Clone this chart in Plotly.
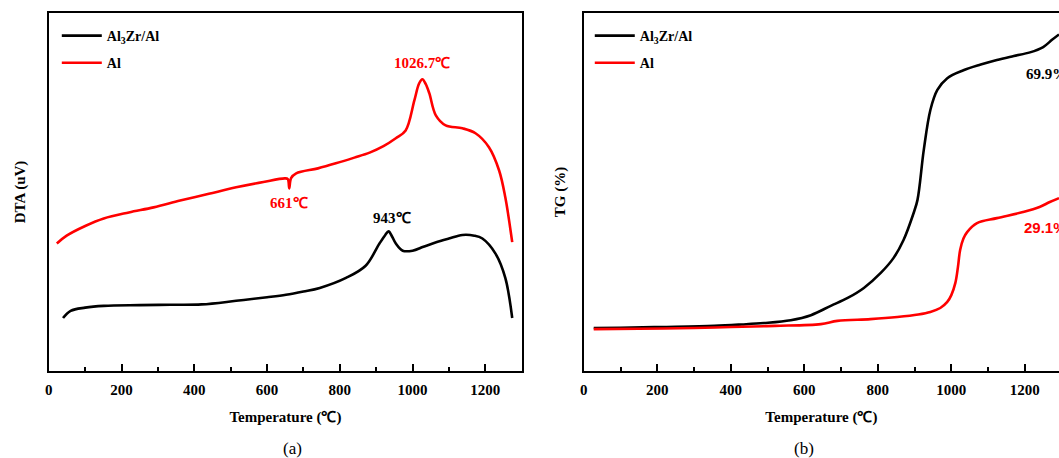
import plotly.graph_objects as go

# ---------------- data ----------------
# (a) DTA curves (arbitrary units)
dta_al_T = [22, 49, 100, 151, 220, 288, 361, 440, 515, 590, 649, 657, 661, 666, 680, 740, 789, 840, 882, 920, 954, 981, 1005, 1018, 1027, 1036, 1046, 1064, 1091, 1137, 1173, 1210, 1238, 1255, 1274]
dta_al_v = [35.6, 37.8, 40.5, 42.6, 44.3, 45.7, 47.6, 49.5, 51.3, 52.8, 53.8, 53.6, 51.0, 53.9, 55.2, 56.6, 58.0, 59.6, 61.0, 62.8, 65.0, 67.2, 75.6, 80.3, 81.5, 80.2, 77.6, 71.4, 68.6, 67.8, 66.4, 62.5, 56.0, 48.5, 36.0]

dta_zr_T = [39, 60, 100, 151, 250, 334, 420, 515, 600, 652, 700, 745, 817, 871, 909, 925, 934, 944, 954, 973, 1000, 1030, 1063, 1100, 1137, 1170, 1192, 1228, 1255, 1274]
dta_zr_v = [14.8, 16.8, 17.7, 18.2, 18.4, 18.5, 18.6, 19.6, 20.6, 21.3, 22.2, 23.2, 26.0, 29.4, 35.6, 38.0, 39.0, 37.5, 35.6, 33.6, 33.6, 34.7, 35.9, 37.0, 38.0, 37.8, 37.0, 32.8, 26.0, 14.8]

# (b) TG curves (arbitrary units)
tg_zr_T = [27, 100, 220, 355, 430, 490, 563, 618, 672, 718, 762, 808, 843, 870, 897, 908, 925, 943, 962, 989, 1033, 1080, 1124, 1170, 1214, 1250, 1274, 1293]
tg_zr_v = [12.0, 12.1, 12.3, 12.6, 13.0, 13.4, 14.2, 15.6, 18.2, 20.4, 23.2, 27.4, 31.6, 36.6, 44.0, 47.8, 61.7, 72.9, 78.5, 81.8, 84.0, 85.6, 86.9, 88.0, 89.0, 90.5, 92.5, 94.0]

tg_al_T = [27, 150, 300, 401, 520, 645, 690, 780, 853, 910, 943, 970, 989, 1000, 1011, 1018, 1024, 1033, 1043, 1070, 1124, 1195, 1240, 1268, 1293]
tg_al_v = [11.7, 11.8, 12.0, 12.3, 12.6, 13.1, 14.0, 14.5, 15.1, 15.8, 16.5, 17.6, 19.3, 21.2, 24.6, 29.0, 33.8, 37.0, 38.8, 41.3, 42.7, 44.4, 45.8, 47.2, 48.3]

legend_names = ["<b>Al<sub>3</sub>Zr/Al</b>", "<b>Al</b>"]
series_colors = ["#000000", "#ff0000"]

dta_labels = [("1026.7\u2103", 1026.7, 86.0, "#ff0000"),
              ("661\u2103", 661, 47.0, "#ff0000"),
              ("943\u2103", 943, 42.6, "#000000")]
tg_labels = [("69.9%", 1197, 83.0, "#000000", "Liberation Serif"),
             ("29.1%", 1192, 40.0, "#ff0000", "Liberation Sans")]

xticks = [0, 200, 400, 600, 800, 1000, 1200]

SERIF = "Liberation Serif"

fig = go.Figure()

# (a)
fig.add_trace(go.Scatter(x=dta_zr_T, y=dta_zr_v, mode="lines", name=legend_names[0],
                         line=dict(color=series_colors[0], width=2.6, shape="spline"),
                         xaxis="x", yaxis="y", legend="legend", legendgroup="a1"))
fig.add_trace(go.Scatter(x=dta_al_T, y=dta_al_v, mode="lines", name=legend_names[1],
                         line=dict(color=series_colors[1], width=2.6, shape="spline"),
                         xaxis="x", yaxis="y", legend="legend", legendgroup="a2"))
# (b)
fig.add_trace(go.Scatter(x=tg_zr_T, y=tg_zr_v, mode="lines", name=legend_names[0],
                         line=dict(color=series_colors[0], width=2.6, shape="spline"),
                         xaxis="x2", yaxis="y2", legend="legend2", legendgroup="b1"))
fig.add_trace(go.Scatter(x=tg_al_T, y=tg_al_v, mode="lines", name=legend_names[1],
                         line=dict(color=series_colors[1], width=2.6, shape="spline"),
                         xaxis="x2", yaxis="y2", legend="legend2", legendgroup="b2"))

W, H = 1059, 458
ydom = [(H - 371) / H, (H - 13) / H]

xcommon = dict(showline=True, linecolor="black", linewidth=2.2,
               ticks="inside", ticklen=7, tickwidth=2.2, tickcolor="black",
               tickvals=xticks, ticktext=[f"<b>{t}</b>" for t in xticks],
               tickfont=dict(family=SERIF, size=15, color="black", weight="bold"),
               ticklabelstandoff=4,
               minor=dict(ticks="inside", dtick=100, tick0=0, ticklen=4, tickwidth=2, tickcolor="black"),
               showgrid=False, zeroline=False,
               title=dict(text="<b>Temperature (\u2103)</b>",
                          font=dict(family=SERIF, size=15, color="black", weight="bold"),
                          standoff=14))

fig.update_layout(
    width=W, height=H,
    margin=dict(l=0, r=0, t=0, b=0),
    paper_bgcolor="white", plot_bgcolor="white",
    xaxis=dict(domain=[45 / W, 520 / W], range=[0, 1301], anchor="y", mirror=True, **xcommon),
    yaxis=dict(domain=ydom, range=[0, 100], anchor="x", showline=True, linecolor="black", linewidth=2.2,
               mirror=True, showticklabels=False, ticks="", showgrid=False, zeroline=False,
               title=dict(text="<b>DTA (uV)</b>", font=dict(family=SERIF, size=15, color="black", weight="bold"),
                          standoff=17)),
    xaxis2=dict(domain=[582 / W, 1.0], range=[0, 1293], anchor="y2", mirror=True, **xcommon),
    yaxis2=dict(domain=ydom, range=[0, 100], anchor="x2", showline=True, linecolor="black", linewidth=2.2,
                mirror=False, showticklabels=False, ticks="", showgrid=False, zeroline=False,
                title=dict(text="<b>TG (%)</b>", font=dict(family=SERIF, size=15, color="black", weight="bold"),
                           standoff=12)),
    legend=dict(x=53 / W, y=(H - 20) / H, xanchor="left", yanchor="top", bgcolor="rgba(0,0,0,0)",
                font=dict(family=SERIF, size=14, color="black", weight="bold"), traceorder="grouped",
                tracegroupgap=6, itemwidth=40),
    legend2=dict(x=588 / W, y=(H - 20) / H, xanchor="left", yanchor="top", bgcolor="rgba(0,0,0,0)",
                 font=dict(family=SERIF, size=14, color="black", weight="bold"), traceorder="grouped",
                 tracegroupgap=6, itemwidth=40),
    showlegend=True,
)

for txt, x, y, c in dta_labels:
    fig.add_annotation(x=x, y=y, xref="x", yref="y", text=f"<b>{txt}</b>", showarrow=False,
                       xanchor="center", yanchor="middle",
                       font=dict(family=SERIF, size=15, color=c, weight="bold"))
for txt, x, y, c, fam in tg_labels:
    fig.add_annotation(x=x, y=y, xref="x2", yref="y2", text=f"<b>{txt}</b>", showarrow=False,
                       xanchor="left", yanchor="middle", font=dict(family=fam, size=15, color=c, weight="bold"))

fig.add_annotation(x=290 / W, y=(H - 448) / H, xref="paper", yref="paper", text="(a)", showarrow=False,
                   xanchor="center", yanchor="middle", font=dict(family=SERIF, size=17, color="black"))
fig.add_annotation(x=803 / W, y=(H - 448) / H, xref="paper", yref="paper", text="(b)", showarrow=False,
                   xanchor="center", yanchor="middle", font=dict(family=SERIF, size=17, color="black"))

fig.write_html("out.html")
